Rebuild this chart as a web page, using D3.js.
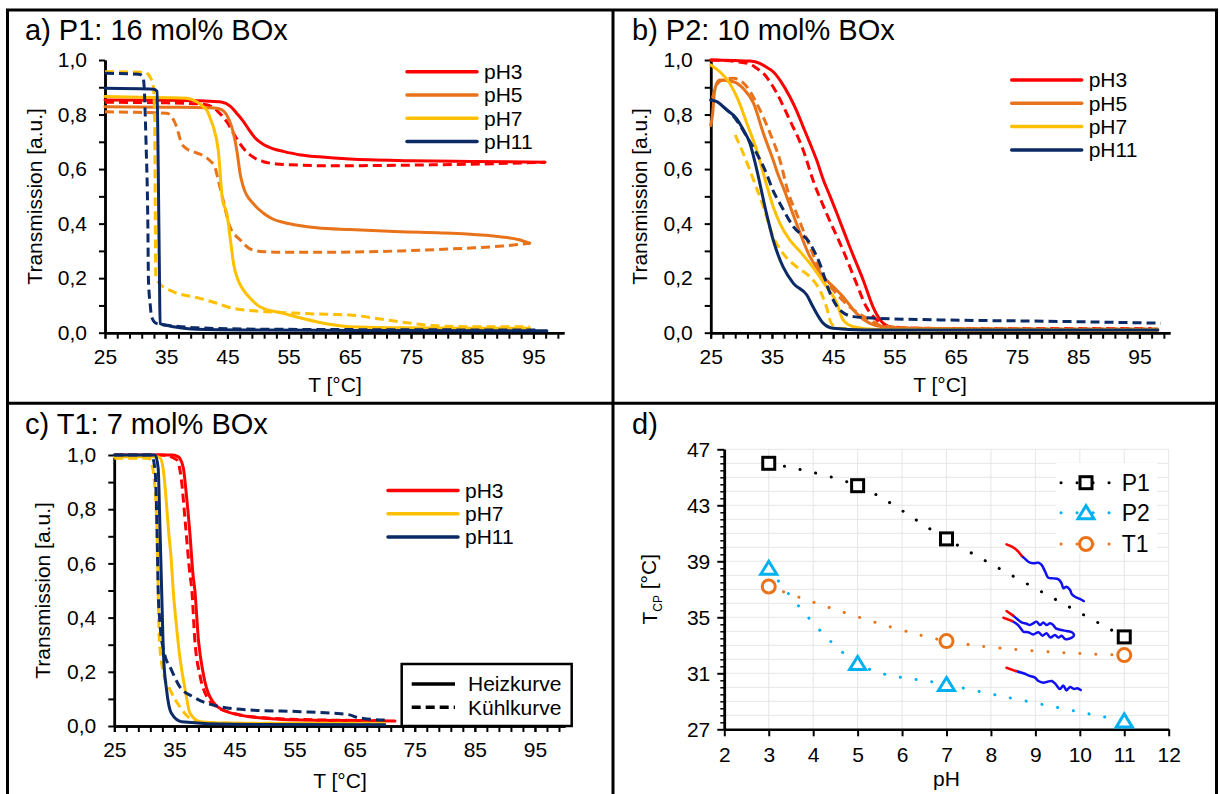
<!DOCTYPE html>
<html>
<head>
<meta charset="utf-8">
<script src="https://cdn.jsdelivr.net/npm/d3@7"></script>
<style>
  body { margin: 0; background: #fff; }
  svg { display: block; }
  text { font-family: "Liberation Sans", Arial, sans-serif; fill: #000; }
</style>
</head>
<body>
<svg id="chart" width="1220" height="794"></svg>
<script>
// ---------- Transmission curves: [T in °C, transmission] ----------
// P1: 16 mol% BOx
const p1_pH3_heat = [[25,0.853],[35,0.852],[42,0.849],[44,0.846],[45.5,0.83],[46.5,0.805],[47.6,0.775],[48.5,0.745],[49.5,0.715],[50.9,0.69],[52.5,0.674],[54.1,0.665],[57,0.652],[60,0.645],[65,0.637],[75,0.631],[85,0.628],[96.9,0.625]];
const p1_pH3_cool = [[25,0.845],[35,0.843],[41,0.838],[42.5,0.828],[43.5,0.81],[45,0.77],[46,0.731],[47,0.695],[48.1,0.664],[49.5,0.64],[50.9,0.627],[53,0.619],[55.2,0.616],[61.8,0.612],[73.2,0.614],[85,0.618],[96.9,0.625]];
const p1_pH5_heat = [[25,0.829],[35,0.827],[42,0.825],[43.5,0.822],[44.5,0.81],[45.3,0.78],[46,0.731],[46.6,0.66],[47.1,0.58],[47.6,0.535],[49.2,0.474],[50.9,0.438],[52.5,0.416],[54.1,0.405],[57,0.392],[59.6,0.385],[65,0.378],[73.2,0.37],[80,0.366],[84.1,0.362],[89.5,0.352],[92.5,0.342],[94.4,0.328]];
const p1_pH5_cool = [[25,0.81],[30,0.808],[35.1,0.805],[35.8,0.795],[36.7,0.755],[37.5,0.695],[38.3,0.675],[39.4,0.664],[41,0.65],[42.2,0.63],[43,0.605],[43.5,0.56],[44.3,0.487],[45.4,0.389],[46.2,0.36],[47.1,0.34],[48.5,0.31],[49.2,0.303],[51,0.297],[54.1,0.295],[61.8,0.295],[73.2,0.3],[84.1,0.31],[90,0.318],[94.4,0.328]];
const p1_pH7_heat = [[25,0.866],[35,0.862],[38.3,0.86],[40,0.847],[41,0.83],[41.6,0.817],[42.3,0.78],[42.7,0.755],[43.5,0.67],[44.2,0.487],[44.9,0.438],[45.5,0.34],[46,0.254],[46.8,0.19],[47.6,0.157],[49,0.12],[50.3,0.095],[54.1,0.071],[59.6,0.04],[65,0.022],[73.2,0.018],[85,0.016],[94.4,0.016]];
const p1_pH7_cool = [[25,0.957],[31.5,0.955],[32.3,0.94],[32.9,0.902],[33.1,0.8],[33.2,0.487],[33.3,0.205],[33.9,0.181],[36.2,0.15],[40.5,0.126],[43,0.11],[46,0.089],[51.4,0.077],[56.9,0.071],[61.8,0.067],[65,0.065],[70,0.05],[73.2,0.04],[78.6,0.026],[85,0.022],[94.4,0.022]];
const p1_pH11_heat = [[25,0.896],[33,0.893],[33.5,0.885],[33.7,0.6],[33.9,0.2],[34,0.034],[35,0.027],[36.2,0.022],[40,0.013],[50,0.01],[70,0.008],[97.2,0.007]];
const p1_pH11_cool = [[25,0.951],[30.5,0.948],[31.2,0.94],[31.4,0.9],[31.7,0.7],[32,0.4],[32.1,0.193],[32.4,0.1],[32.6,0.059],[33.4,0.034],[36.2,0.025],[40,0.018],[50,0.013],[70,0.011],[96,0.01]];

// P2: 10 mol% BOx
const p2_pH3_heat = [[25,1.0],[29,0.998],[31.4,0.996],[33,0.988],[34,0.975],[35.2,0.957],[36.5,0.92],[37.9,0.866],[39,0.815],[40.1,0.755],[41.2,0.695],[42.3,0.633],[43.4,0.56],[44.5,0.5],[45.6,0.438],[47.7,0.315],[49.9,0.193],[51.5,0.095],[52.3,0.06],[53.2,0.034],[55.3,0.016],[60,0.012],[70,0.01],[85,0.01],[98,0.01]];
const p2_pH3_cool = [[25,1.0],[29.2,0.994],[31.4,0.985],[32.5,0.97],[33.6,0.951],[35.8,0.878],[37.9,0.78],[40.1,0.67],[41.7,0.56],[43.9,0.438],[46.6,0.303],[48.8,0.181],[50.4,0.095],[52.1,0.047],[54.2,0.022],[60,0.016],[75,0.015],[97,0.015]];
const p2_pH5_heat = [[25,0.76],[25.3,0.8],[25.6,0.88],[26,0.915],[26.5,0.927],[28.7,0.92],[30.3,0.896],[32,0.841],[33.6,0.731],[35.2,0.633],[36,0.58],[36.8,0.535],[39,0.401],[41.2,0.279],[43.4,0.205],[45,0.169],[46.6,0.132],[48.8,0.071],[51,0.034],[53,0.022],[60,0.015],[80,0.013],[98,0.013]];
const p2_pH5_cool = [[25.3,0.86],[26,0.91],[27,0.927],[28.7,0.933],[30.9,0.902],[32.5,0.841],[34.7,0.731],[36.3,0.633],[37.7,0.511],[39,0.438],[41.2,0.315],[43.4,0.205],[45,0.157],[47.7,0.095],[51,0.047],[53,0.025],[60,0.016],[80,0.014],[98,0.014]];
const p2_pH7_heat = [[25,0.982],[26.5,0.957],[28.1,0.915],[29.5,0.853],[30.9,0.768],[32.5,0.67],[33.9,0.56],[35.2,0.462],[36.3,0.401],[37.9,0.34],[39.5,0.3],[41.2,0.254],[43.9,0.169],[45.6,0.108],[46.6,0.047],[48.3,0.022],[52,0.012],[70,0.01],[98,0.01]];
const p2_pH7_cool = [[29,0.725],[30.3,0.658],[32,0.56],[33.6,0.462],[35.2,0.352],[36.8,0.291],[39,0.242],[41.2,0.205],[42.8,0.157],[43.9,0.095],[44.7,0.034],[46,0.016],[55,0.01],[98,0.01]];
const p2_pH11_heat = [[25,0.853],[26,0.847],[27.6,0.817],[29.2,0.786],[30.3,0.745],[31.4,0.695],[32.5,0.6],[34.1,0.438],[35.2,0.34],[36.8,0.242],[38.5,0.181],[40.7,0.138],[41.7,0.095],[43.4,0.034],[45,0.016],[50,0.01],[70,0.01],[98,0.01]];
const p2_pH11_cool = [[27,0.83],[29.2,0.78],[30.9,0.719],[32.5,0.658],[34.1,0.584],[35.2,0.52],[36.3,0.474],[38.5,0.389],[41.2,0.328],[42.8,0.254],[44.5,0.144],[46.1,0.083],[48.3,0.059],[52.1,0.053],[62.4,0.047],[80,0.042],[98.5,0.035]];

// T1: 7 mol% BOx
const t1_pH3_heat = [[25,1.0],[34.8,1.0],[35.5,0.995],[35.9,0.988],[36.5,0.951],[37,0.852],[37.6,0.705],[38.1,0.557],[38.4,0.502],[39,0.317],[39.8,0.194],[40.9,0.108],[43.1,0.059],[47.6,0.034],[55.9,0.022],[65,0.02],[71.7,0.018]];
const t1_pH3_cool = [[25,1.0],[33,1.0],[35.4,0.982],[36.2,0.902],[36.8,0.754],[37.6,0.557],[37.9,0.502],[38.4,0.317],[39.3,0.182],[40.4,0.108],[42,0.071],[44.8,0.047],[50,0.03],[60,0.022],[70,0.02]];
const t1_pH7_heat = [[25,0.994],[32,0.994],[32.6,0.99],[33.2,0.938],[33.7,0.815],[34,0.729],[34.5,0.606],[34.8,0.502],[35.3,0.379],[35.9,0.256],[36.8,0.133],[37.6,0.047],[39.3,0.016],[45,0.01],[70,0.008]];
const t1_pH7_cool = [[25,0.988],[30.7,0.988],[31.2,0.97],[31.5,0.938],[32.1,0.729],[32.5,0.317],[33.2,0.194],[34.3,0.133],[35.9,0.071],[37.6,0.028],[40,0.012],[50,0.01],[70,0.01]];
const t1_pH11_heat = [[25,1.0],[31.8,1.0],[32.3,0.951],[32.6,0.729],[32.9,0.483],[33.2,0.256],[33.7,0.133],[34.5,0.047],[36.2,0.016],[45,0.006],[70,0.005]];
const t1_pH11_cool = [[25,1.0],[31.2,1.0],[31.8,0.938],[32.1,0.729],[32.3,0.502],[32.6,0.379],[33.2,0.28],[34.5,0.207],[35.9,0.145],[38.1,0.108],[41.5,0.077],[47.6,0.059],[55.9,0.053],[61.4,0.047],[64.2,0.041],[65,0.034],[66.4,0.028],[70,0.022]];

// ---------- Cloud points T_CP vs pH ----------
const p1_pH = [3, 5, 7, 11];
const p1_tcp = [46.0, 44.4, 40.6, 33.6];
const p2_pH = [3, 5, 7, 11];
const p2_tcp = [38.5, 31.7, 30.2, 27.6];
const t1_pH = [3, 7, 11];
const t1_tcp = [37.2, 33.3, 32.3];

// hand-drawn trend strokes in panel d: [pH, T_CP]
const markP1_red = [[8.35,40.21],[8.47,40.05],[8.58,39.81],[8.69,39.4]];
const markP1_blue = [[8.69,39.4],[8.77,39.17],[8.84,38.97],[8.95,38.86],[9.07,38.9],[9.14,38.74],[9.22,38.26],[9.29,37.83],[9.4,37.78],[9.52,37.71],[9.59,37.43],[9.63,37.07],[9.7,37.19],[9.78,36.95],[9.82,36.64],[9.89,36.47],[10.0,36.31],[10.09,36.16]];
const markT1_redA = [[8.35,35.45],[8.5,35.12]];
const markT1_redB = [[8.28,34.97],[8.47,34.74]];
const markT1_blue = [[8.5,35.12],[8.59,34.88],[8.69,34.64],[8.8,34.54],[8.88,34.45],[8.95,34.57],[9.03,34.69],[9.1,34.45],[9.18,34.62],[9.25,34.45],[9.33,34.57],[9.4,34.45],[9.46,34.21],[9.59,34.09],[9.7,34.02],[9.82,33.93],[9.87,33.74],[9.82,33.55],[9.67,33.45],[9.59,33.69],[9.52,33.55],[9.44,33.74],[9.34,33.55],[9.25,33.86],[9.16,33.69],[9.07,33.93],[8.95,33.78],[8.84,33.93],[8.73,33.97],[8.67,34.21],[8.59,34.5],[8.47,34.74]];
const markP2_red = [[8.35,31.4],[8.56,31.16]];
const markP2_blue = [[8.56,31.16],[8.73,31.0],[8.88,30.81],[8.99,30.69],[9.07,30.45],[9.18,30.33],[9.27,30.4],[9.37,30.45],[9.46,30.21],[9.55,29.88],[9.63,30.12],[9.7,29.78],[9.78,30.02],[9.87,29.88],[9.94,29.93],[10.02,29.81]];

// ---------- tick values and labels ----------
const tempMajorTicks = [25, 35, 45, 55, 65, 75, 85, 95];
const transMajorTicks = [0, 0.2, 0.4, 0.6, 0.8, 1.0];
const phTicks = [2, 3, 4, 5, 6, 7, 8, 9, 10, 11, 12];
const tcpTicks = [27, 31, 35, 39, 43, 47];
const phLegend = ['pH3', 'pH5', 'pH7', 'pH11'];
const sampleLegend = ['P1', 'P2', 'T1'];

// ---------- styling ----------
const colors = { pH3: '#FF0000', pH5: '#E8731A', pH7: '#FFC000', pH11: '#0B2A66' };
const DASH = '9 5';
const FS = 21;      // tick labels, axis titles, legends
const FS_TITLE = 29;
const svg = d3.select('#chart');
const commaFmt = d => d3.format('.1f')(d).replace('.', ',');

// panel frame
const frame = svg.append('g').attr('stroke', '#000').attr('stroke-width', 3).attr('fill', 'none');
frame.append('rect').attr('x', 7.5).attr('y', 10).attr('width', 1209).attr('height', 800);
frame.append('line').attr('x1', 613).attr('x2', 613).attr('y1', 10).attr('y2', 800);
frame.append('line').attr('x1', 7).attr('x2', 1217).attr('y1', 403.3).attr('y2', 403.3);

function styleAxis(g, tickW) {
  g.select('.domain').attr('stroke', '#000').attr('stroke-width', 2.5);
  g.selectAll('.tick line').attr('stroke', '#000').attr('stroke-width', tickW);
  g.selectAll('text').attr('font-size', FS).attr('font-family', '"Liberation Sans", Arial, sans-serif').attr('fill', '#000');
}

function transmissionPanel(L, title, series, legend) {
  const x = d3.scaleLinear().domain([25, 100]).range([L.left, L.right]);
  const y = d3.scaleLinear().domain([0, 1]).range([L.bottom, L.top]);
  const g = svg.append('g');

  // y axis: minor and major
  const yMinor = g.append('g').attr('transform', `translate(${L.left},0)`)
    .call(d3.axisLeft(y).tickValues(d3.range(0.1, 1, 0.2)).tickSize(6).tickSizeOuter(0).tickFormat(''));
  styleAxis(yMinor, 2);
  const yMajor = g.append('g').attr('transform', `translate(${L.left},0)`)
    .call(d3.axisLeft(y).tickValues(transMajorTicks).tickSize(6).tickSizeOuter(0).tickPadding(12).tickFormat(commaFmt));
  styleAxis(yMajor, 2);

  // x axis: minor every 2 °C, labels every 10 °C
  const xMinor = g.append('g').attr('transform', `translate(0,${L.bottom})`)
    .call(d3.axisBottom(x).tickValues(d3.range(25, 100, 2)).tickSize(6).tickSizeOuter(0).tickFormat(''));
  styleAxis(xMinor, 2);
  const xMajor = g.append('g').attr('transform', `translate(0,${L.bottom})`)
    .call(d3.axisBottom(x).tickValues(tempMajorTicks).tickSize(6).tickSizeOuter(0).tickPadding(10).tickFormat(d3.format('d')));
  styleAxis(xMajor, 2);

  // axis titles
  g.append('text').attr('transform', `translate(${L.yTitleX},${(L.top + L.bottom) / 2}) rotate(-90)`)
    .attr('text-anchor', 'middle').attr('dy', '0.35em').attr('font-size', FS).text('Transmission [a.u.]');
  g.append('text').attr('x', L.xTitleX).attr('y', L.xTitleY).attr('text-anchor', 'middle')
    .attr('font-size', FS).text('T [°C]');

  // panel title
  g.append('text').attr('x', L.titleX).attr('y', L.titleY).attr('font-size', FS_TITLE).text(title);

  // curves
  const line = d3.line().x(d => x(d[0])).y(d => y(d[1])).curve(d3.curveMonotoneX);
  series.forEach(s => {
    g.append('path').attr('d', line(s.values)).attr('fill', 'none')
      .attr('stroke', colors[s.ph]).attr('stroke-width', 3)
      .attr('stroke-linejoin', 'round')
      .attr('stroke-linecap', s.cool ? 'butt' : 'round')
      .attr('stroke-dasharray', s.cool ? DASH : null);
  });

  // legend
  legend.items.forEach((ph, i) => {
    const ly = legend.y + i * legend.step;
    g.append('line').attr('x1', legend.x).attr('x2', legend.x + 70).attr('y1', ly).attr('y2', ly)
      .attr('stroke', colors[ph]).attr('stroke-width', 3.5).attr('stroke-linecap', 'round');
    g.append('text').attr('x', legend.x + 77).attr('y', ly).attr('dy', '0.35em').attr('font-size', FS).text(ph);
  });
  return { g, x, y };
}

// a) P1
transmissionPanel(
  { left: 105, right: 564, top: 60, bottom: 332.7, yTitleX: 35, xTitleX: 335, xTitleY: 392, titleX: 25, titleY: 40 },
  'a) P1: 16 mol% BOx',
  [
    { ph: 'pH3', values: p1_pH3_heat }, { ph: 'pH3', cool: true, values: p1_pH3_cool },
    { ph: 'pH5', values: p1_pH5_heat }, { ph: 'pH5', cool: true, values: p1_pH5_cool },
    { ph: 'pH7', values: p1_pH7_heat }, { ph: 'pH7', cool: true, values: p1_pH7_cool },
    { ph: 'pH11', values: p1_pH11_heat }, { ph: 'pH11', cool: true, values: p1_pH11_cool }
  ],
  { items: phLegend, x: 407, y: 71.7, step: 23.3 }
);

// b) P2
transmissionPanel(
  { left: 710.7, right: 1170, top: 60, bottom: 332.7, yTitleX: 640, xTitleX: 940, xTitleY: 392, titleX: 632, titleY: 40 },
  'b) P2: 10 mol% BOx',
  [
    { ph: 'pH3', values: p2_pH3_heat }, { ph: 'pH3', cool: true, values: p2_pH3_cool },
    { ph: 'pH5', values: p2_pH5_heat }, { ph: 'pH5', cool: true, values: p2_pH5_cool },
    { ph: 'pH7', values: p2_pH7_heat }, { ph: 'pH7', cool: true, values: p2_pH7_cool },
    { ph: 'pH11', values: p2_pH11_heat }, { ph: 'pH11', cool: true, values: p2_pH11_cool }
  ],
  { items: phLegend, x: 1011.7, y: 80, step: 23.3 }
);

// c) T1
const panelC = transmissionPanel(
  { left: 114.3, right: 565, top: 455, bottom: 726, yTitleX: 43, xTitleX: 340, xTitleY: 788, titleX: 25, titleY: 434 },
  'c) T1: 7 mol% BOx',
  [
    { ph: 'pH3', values: t1_pH3_heat }, { ph: 'pH3', cool: true, values: t1_pH3_cool },
    { ph: 'pH7', values: t1_pH7_heat }, { ph: 'pH7', cool: true, values: t1_pH7_cool },
    { ph: 'pH11', values: t1_pH11_heat }, { ph: 'pH11', cool: true, values: t1_pH11_cool }
  ],
  { items: ['pH3', 'pH7', 'pH11'], x: 388, y: 490.5, step: 23.3 }
);

// heating / cooling legend box in panel c
{
  const g = panelC.g;
  g.append('rect').attr('x', 401.7).attr('y', 664).attr('width', 170).attr('height', 62)
    .attr('fill', '#fff').attr('stroke', '#000').attr('stroke-width', 2.5);
  [['Heizkurve', false, 684], ['Kühlkurve', true, 707.3]].forEach(([label, dashed, ly]) => {
    g.append('line').attr('x1', 411.7).attr('x2', 455).attr('y1', ly).attr('y2', ly)
      .attr('stroke', '#000').attr('stroke-width', 3.5).attr('stroke-dasharray', dashed ? '9 5' : null);
    g.append('text').attr('x', 468).attr('y', ly).attr('dy', '0.35em').attr('font-size', FS).text(label);
  });
}

// d) cloud point vs pH
{
  const g = svg.append('g');
  const x = d3.scaleLinear().domain([2, 12]).range([724.3, 1168.7]);
  const y = d3.scaleLinear().domain([27, 47]).range([729.3, 449.3]);

  // gridlines
  const grid = g.append('g').attr('stroke', '#E6E6E6').attr('stroke-width', 1);
  d3.range(3, 13).forEach(v => grid.append('line').attr('x1', x(v)).attr('x2', x(v)).attr('y1', y(27)).attr('y2', y(47)));
  d3.range(28, 48).forEach(v => grid.append('line').attr('x1', x(2)).attr('x2', x(12)).attr('y1', y(v)).attr('y2', y(v)));

  const yMinor = g.append('g').attr('transform', `translate(${x(2)},0)`)
    .call(d3.axisLeft(y).tickValues(d3.range(27.5, 47, 0.5).filter(v => (v - 27) % 4 !== 0)).tickSize(4).tickSizeOuter(0).tickFormat(''));
  styleAxis(yMinor, 1.5);
  const yMajor = g.append('g').attr('transform', `translate(${x(2)},0)`)
    .call(d3.axisLeft(y).tickValues(tcpTicks).tickSize(7).tickSizeOuter(0).tickPadding(7).tickFormat(d3.format('d')));
  styleAxis(yMajor, 2);
  const xAxis = g.append('g').attr('transform', `translate(0,${y(27)})`)
    .call(d3.axisBottom(x).tickValues(phTicks).tickSize(7).tickSizeOuter(0).tickPadding(11).tickFormat(d3.format('d')));
  styleAxis(xAxis, 2);

  g.append('text').attr('x', 632).attr('y', 434).attr('font-size', FS_TITLE).text('d)');
  g.append('text').attr('x', x(7)).attr('y', 786).attr('text-anchor', 'middle').attr('font-size', FS).text('pH');
  const yt = g.append('text').attr('transform', `translate(650,${(y(27) + y(47)) / 2}) rotate(-90)`)
    .attr('text-anchor', 'middle').attr('dy', '0.35em').attr('font-size', FS);
  yt.append('tspan').text('T');
  yt.append('tspan').attr('font-size', 12).attr('dy', '0.35em').text('CP');
  yt.append('tspan').attr('dy', '-0.25em').text(' [°C]');

  const dotted = { 'stroke-width': 3, 'stroke-dasharray': '0.1 15.9', 'stroke-linecap': 'round' };
  const curve = d3.line().x(d => x(d[0])).y(d => y(d[1])).curve(d3.curveCatmullRom.alpha(0.5));
  const sets = [
    { name: 'P1', color: '#000000', pH: p1_pH, tcp: p1_tcp, marker: 'square' },
    { name: 'P2', color: '#00B0F0', pH: p2_pH, tcp: p2_tcp, marker: 'triangle' },
    { name: 'T1', color: '#E8731A', pH: t1_pH, tcp: t1_tcp, marker: 'circle' }
  ];
  const drawMarker = (sel, type, cx, cy, color) => {
    if (type === 'square') {
      sel.append('rect').attr('x', cx - 6).attr('y', cy - 6).attr('width', 12).attr('height', 12)
        .attr('fill', '#fff').attr('stroke', color).attr('stroke-width', 3);
    } else if (type === 'triangle') {
      sel.append('path').attr('d', `M${cx},${cy - 7}L${cx + 8},${cy + 6}L${cx - 8},${cy + 6}Z`)
        .attr('fill', '#fff').attr('stroke', color).attr('stroke-width', 3).attr('stroke-linejoin', 'miter');
    } else {
      sel.append('circle').attr('cx', cx).attr('cy', cy).attr('r', 6.5)
        .attr('fill', '#fff').attr('stroke', color).attr('stroke-width', 3);
    }
  };
  sets.forEach(s => {
    const pts = s.pH.map((p, i) => [p, s.tcp[i]]);
    const p = g.append('path').attr('d', curve(pts)).attr('fill', 'none').attr('stroke', s.color);
    Object.entries(dotted).forEach(([k, v]) => p.attr(k, v));
  });
  sets.forEach(s => s.pH.forEach((p, i) => drawMarker(g, s.marker, x(p), y(s.tcp[i]), s.color)));

  // hand-drawn trend strokes
  const stroke = d3.line().x(d => x(d[0])).y(d => y(d[1])).curve(d3.curveCatmullRom.alpha(0.5));
  [[markP1_blue, '#1010F0'], [markT1_blue, '#1010F0'], [markP2_blue, '#1010F0'],
   [markP1_red, '#FF0000'], [markT1_redA, '#FF0000'], [markT1_redB, '#FF0000'], [markP2_red, '#FF0000']]
    .forEach(([pts, c]) => g.append('path').attr('d', stroke(pts)).attr('fill', 'none')
      .attr('stroke', c).attr('stroke-width', 2.5).attr('stroke-linecap', 'round').attr('stroke-linejoin', 'round'));

  // legend
  const lg = g.append('g');
  lg.append('rect').attr('x', 1056).attr('y', 463).attr('width', 101).attr('height', 90).attr('fill', '#fff');
  sets.forEach((s, i) => {
    const ly = [482.7, 512.7, 544][i];
    const p = lg.append('line').attr('x1', 1061).attr('x2', 1113).attr('y1', ly).attr('y2', ly).attr('stroke', s.color);
    Object.entries(dotted).forEach(([k, v]) => p.attr(k, v));
    drawMarker(lg, s.marker, 1086, ly, s.color);
    lg.append('text').attr('x', 1121.7).attr('y', ly).attr('dy', '0.35em').attr('font-size', 23).text(s.name);
  });
}
</script>
</body>
</html>
